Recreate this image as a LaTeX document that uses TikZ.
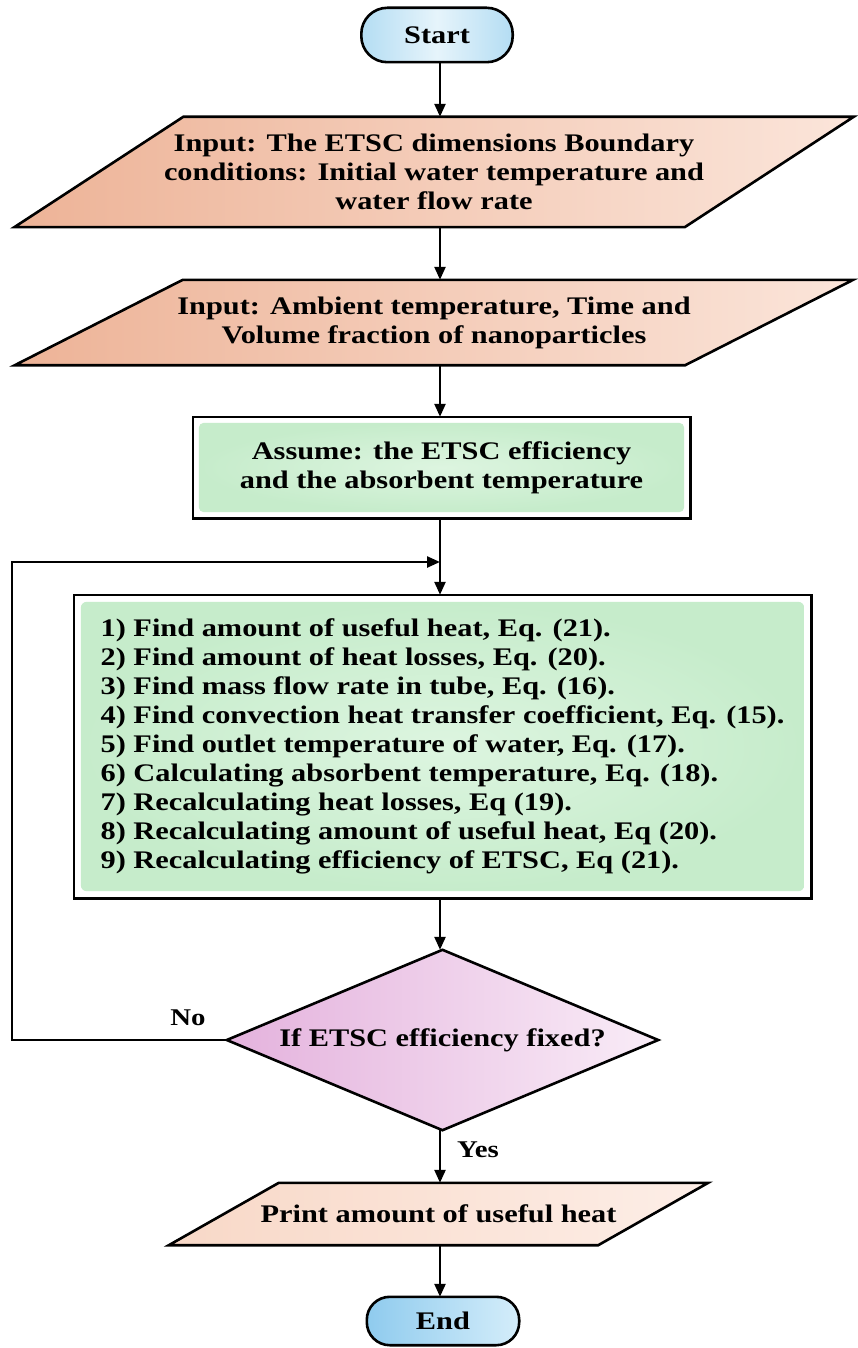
\documentclass[tikz,border=0pt]{standalone}
\usepackage{fontspec}
\setmainfont{Liberation Serif}[FakeStretch=1.2]
\usetikzlibrary{arrows.meta,backgrounds,calc}
\definecolor{pillA}{HTML}{B4DDF3}
\definecolor{pillB}{HTML}{E6F4FB}
\definecolor{pillC}{HTML}{8FCBEE}
\definecolor{pillD}{HTML}{D4EDFA}
\definecolor{peachA}{HTML}{EDB397}
\definecolor{peachB}{HTML}{FBE5DA}
\definecolor{peachC}{HTML}{F8D8C7}
\definecolor{peachD}{HTML}{FDEEE7}
\definecolor{mint}{HTML}{C6ECCB}
\definecolor{mintB}{HTML}{DDF5E0}
\definecolor{lilacA}{HTML}{E4B2DD}
\definecolor{lilacB}{HTML}{F9ECF7}
\newcommand{\myparal}[2]{%
  ($(#1.north west)+(#2/2,0)$) -- ($(#1.north east)+(#2/2,0)$) --
  ($(#1.south east)-(#2/2,0)$) -- ($(#1.south west)-(#2/2,0)$) -- cycle}
\begin{document}
\begin{tikzpicture}[x=1pt,y=-1pt,
  txt/.style={inner sep=0pt, align=center,
    font=\fontsize{25.3}{29}\selectfont\bfseries},
  lbl/.style={inner sep=0pt, font=\fontsize{24}{28}\selectfont\bfseries},
  edge/.style={line width=2.6pt, line join=miter},
  arr/.style={line width=2.4pt, -{Triangle[length=13pt,width=11pt]}}]
\useasboundingbox (0,0) rectangle (857,1348);
\coordinate (axis) at (440,0);
\coordinate (loopL) at (12,0);
\coordinate (join) at (440,562);

\node[txt, minimum width=151pt, minimum height=54pt] (start) at (437,35) {Start};
\node[txt, minimum width=670pt, minimum height=110pt] (in1) at (434,172)
  {Input: The ETSC dimensions Boundary\\conditions: Initial water temperature and\\water flow rate};
\node[txt, minimum width=670pt, minimum height=85pt] (in2) at (434,322.5)
  {Input: Ambient temperature, Time and\\Volume fraction of nanoparticles};
\node[txt, minimum width=497pt, minimum height=101pt] (assume) at (441.5,467.5)
  {Assume: the ETSC efficiency\\and the absorbent temperature};
\node[txt, align=left, minimum width=737pt, minimum height=303pt] (proc) at (442.5,746.5)
  {1) Find amount of useful heat, Eq. (21).\\
   2) Find amount of heat losses, Eq. (20).\\
   3) Find mass flow rate in tube, Eq. (16).\\
   4) Find convection heat transfer coefficient, Eq. (15).\\
   5) Find outlet temperature of water, Eq. (17).\\
   6) Calculating absorbent temperature, Eq. (18).\\
   7) Recalculating heat losses, Eq (19).\\
   8) Recalculating amount of useful heat, Eq (20).\\
   9) Recalculating efficiency of ETSC, Eq (21).};
\node[txt, minimum width=431pt, minimum height=180pt] (dec) at (442.5,1040)
  {If ETSC efficiency fixed?};
\node[txt, minimum width=429pt, minimum height=62pt] (print) at (438.5,1214)
  {Print amount of useful heat};
\node[txt, minimum width=152pt, minimum height=48pt] (end) at (443,1321) {End};
\node[lbl] (no) at (188,1018) {No};
\node[lbl] (yes) at (478,1150) {Yes};

\begin{scope}[on background layer]
  \fill[white] (0,0) rectangle (857,1348);
  % terminators
  \shade[left color=pillA, right color=pillA, middle color=pillB, rounded corners=26pt]
    (start.south west) rectangle (start.north east);
  \draw[edge, rounded corners=26pt] (start.south west) rectangle (start.north east);
  \shade[left color=pillC, right color=pillD, rounded corners=23pt]
    (end.south west) rectangle (end.north east);
  \draw[edge, rounded corners=23pt] (end.south west) rectangle (end.north east);
  % inputs
  \shade[left color=peachA, right color=peachB] \myparal{in1}{169};
  \draw[edge] \myparal{in1}{169};
  \shade[left color=peachA, right color=peachB] \myparal{in2}{168};
  \draw[edge] \myparal{in2}{168};
  \shade[left color=peachC, right color=peachD] \myparal{print}{110};
  \draw[edge] \myparal{print}{110};
  % green boxes
  \shade[inner color=mintB, outer color=mint, rounded corners=5pt]
    ($(assume.south west)+(6,-6)$) rectangle ($(assume.north east)+(-6,6)$);
  \draw[edge] (assume.south west) rectangle (assume.north east);
  \shade[inner color=mintB, outer color=mint, rounded corners=6pt]
    ($(proc.south west)+(7,-7)$) rectangle ($(proc.north east)+(-7,7)$);
  \draw[edge] (proc.south west) rectangle (proc.north east);
  % decision
  \shade[left color=lilacA, right color=lilacB]
    (dec.north) -- (dec.east) -- (dec.south) -- (dec.west) -- cycle;
  \draw[edge] (dec.north) -- (dec.east) -- (dec.south) -- (dec.west) -- cycle;
\end{scope}

\draw[arr] (start.south -| axis) -- (in1.north -| axis);
\draw[arr] (in1.south -| axis) -- (in2.north -| axis);
\draw[arr] (in2.south -| axis) -- (assume.north -| axis);
\draw[arr] (assume.south -| axis) -- (proc.north -| axis);
\draw[arr] (dec.west) -- (dec.west -| loopL) |- (join);
\draw[arr] (proc.south -| axis) -- (dec.north -| axis);
\draw[arr] (dec.south -| axis) -- (print.north -| axis);
\draw[arr] (print.south -| axis) -- (end.north -| axis);
\end{tikzpicture}
\end{document}
